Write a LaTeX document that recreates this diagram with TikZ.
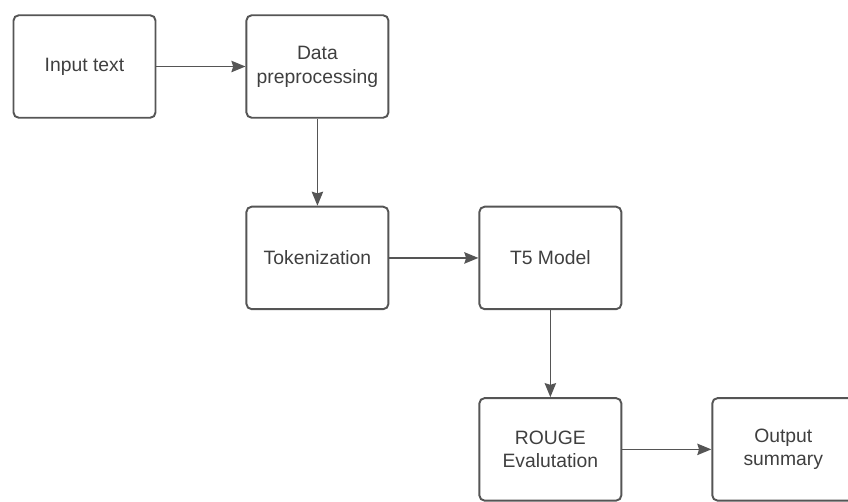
\documentclass[tikz,border=0pt]{standalone}
\usepackage{fontspec}
\setmainfont{Liberation Sans}
\usetikzlibrary{positioning,arrows.meta}
\definecolor{boxline}{HTML}{555555}
\definecolor{boxtext}{HTML}{3F3F3F}

\begin{document}
\begin{tikzpicture}
[
    stage/.style={draw=boxline, line width=1.1pt, rounded corners=3pt,
        minimum width=2.84cm, minimum height=2.05cm, align=center,
        text=boxtext, font=\fontsize{11}{13.5}\selectfont},
    flow/.style={draw=boxline, line width=0.9pt, -{Stealth[length=8pt,width=6.5pt,inset=1pt]}},
    node distance=1.74cm and 1.78cm,
]
\clip (0,0) rectangle (16.96,-10.04);
\node [stage] (input) at (1.69,-1.33) {Input text};
\node [stage, right=of input] (prep) {Data\\preprocessing};
\node [stage, below=of prep] (token) {Tokenization};
\node [stage, right=of token] (model) {T5 Model};
\node [stage, below=of model] (rouge) {ROUGE\\Evalutation};
\node [stage, right=of rouge] (output) {Output\\summary};

\draw [flow] (input) -- (prep);
\draw [flow] (prep) -- (token);
\draw [flow] (token) -- (model);
\draw [flow] (model) -- (rouge);
\draw [flow] (rouge) -- (output);
\end{tikzpicture}
\end{document}
